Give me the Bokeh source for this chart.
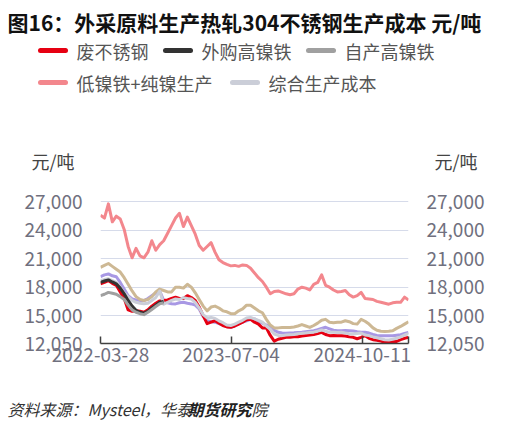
import pandas as pd
from datetime import datetime
from bokeh.plotting import figure
from bokeh.layouts import column
from bokeh.models import (Range1d, LinearAxis, FixedTicker, DatetimeTickFormatter,
                          NumeralTickFormatter)
from bokeh.core.properties import value
from bokeh.embed import file_html
from bokeh.resources import INLINE

# ---------------- data ----------------
dates = pd.date_range("2022-03-28", periods=79, freq="14D")

scrap = [18350, 18500, 18700, 18400, 18200, 17500, 16800, 15600, 15450, 15500,
         15450, 15350, 15600, 16000, 16300, 16550, 16600, 16650, 16800, 16930,
         16800, 16800, 17100, 16900, 16600, 15900, 15000, 14150, 14300, 14450,
         14200, 13950, 13800, 13760, 13900, 14100, 14300, 14550, 14600, 14300,
         14100, 13700, 13700, 12900, 12300, 12500, 12600, 12700, 12700, 12750,
         12770, 12850, 12900, 12950, 13000, 13100, 13230, 13000, 12880, 12900,
         12880, 12880, 12850, 12750, 12700, 12550, 12700, 12880, 12600, 12450,
         12400, 12300, 12170, 12200, 12250, 12270, 12450, 12600, 12700]

bought_npi = [18500, 18650, 18770, 18550, 18350, 17900, 17300, 16600, 16000, 15550,
              15350, 15250, 15450, 15800, 16100, 16400, 16500]

own_npi = [17100, 17250, 17450, 17350, 17250, 17000, 16700, 16100, 15600, 15350,
           15200, 15100, 15350, 15650, 15950, 16250, 16350]

low_ni = [25600, 25300, 26800, 24900, 25500, 25200, 24100, 22300, 21100, 22100,
          21300, 21100, 21700, 22900, 21900, 22500, 22900, 23700, 24500, 25300,
          25800, 24400, 25400, 24500, 23600, 22400, 21900, 22300, 22700, 21700,
          20900, 20600, 20400, 20250, 20300, 20200, 20350, 20300, 20000, 19500,
          19000, 18600, 18000, 17300, 17550, 17600, 17450, 17300, 17200, 17300,
          17800, 18000, 17900, 17700, 18300, 18500, 19300, 18200, 18000, 17700,
          17500, 17550, 17650, 17200, 16950, 17100, 17450, 16800, 16750, 16700,
          16500, 16400, 16300, 16200, 16350, 16400, 16400, 16950, 16650]

combined = [18700, 18800, 18880, 18700, 18500, 18000, 17400, 17000, 16600, 16400,
            16300, 16250, 16300, 16600, 16900, 17600, 16200, 16400, 16600, 16750,
            16700, 16900, 16800, 16750, 16400, 15800, 15100, 14750, 14800, 14700,
            14450, 14250, 14000, 13950, 14100, 14300, 14500, 14750, 14800, 14650,
            14500, 14300, 13900, 13550, 13050, 12900, 12880, 12950, 12980, 13000,
            13080, 13120, 13150, 13200, 13250, 13350, 13480, 13350, 13250, 13230,
            13200, 13230, 13150, 13080, 13050, 13100, 13150, 12950, 12880, 12750,
            12650, 12550, 12450, 12420, 12500, 12600, 12750, 12950, 13100]

tan_series = [20100, 20300, 20500, 20200, 19900, 19600, 19000, 18300, 17600, 17000,
              16700, 16600, 16700, 17000, 17500, 17800, 17650, 17500, 17500, 18000,
              18000, 17900, 18300, 18000, 17400, 16700, 16000, 15500, 15900, 16000,
              15800, 15500, 15400, 15200, 15200, 15500, 15700, 16100, 16100, 15800,
              15500, 15300, 14600, 14000, 13700, 13700, 13750, 13750, 13750, 13800,
              13900, 14050, 13900, 13750, 13950, 14200, 14500, 14600, 14300, 14250,
              14300, 14300, 14450, 14350, 14150, 14100, 14600, 14400, 14100, 13700,
              13450, 13350, 13330, 13350, 13400, 13650, 13850, 14100, 14350]

purple_series = [19100, 19300, 19400, 19200, 19100, 18500, 17800, 17100, 16750, 16650,
                 16580, 16580, 16800, 17100, 17400, 17600, 16600, 16350, 16250, 16230,
                 16350, 16400, 16300, 16230, 16100, 15700, 14900, 14450, 14350, 14300,
                 14150, 14000, 13850, 13760, 13900, 14150, 14300, 14450, 14600, 14650,
                 14400, 14200, 14000, 13760, 13450, 13230, 13150, 13120, 13150, 13180,
                 13220, 13230, 13300, 13350, 13400, 13500, 13650, 13760, 13600, 13450,
                 13400, 13400, 13420, 13400, 13380, 13300, 13250, 13230, 13150, 13000,
                 12900, 12880, 12870, 12880, 12880, 12930, 12980, 13100, 13230]

legend_labels = ["废不锈钢", "外购高镍铁", "自产高镍铁", "低镍铁+纯镍生产", "综合生产成本"]
x_tick_dates = ["2022-03-28", "2023-07-04", "2024-10-11"]
y_ticks = [12050, 15000, 18000, 21000, 24000, 27000]
y_grid = [15000, 18000, 21000, 24000, 27000, 28000]
title_text = "图16：外采原料生产热轧304不锈钢生产成本 元/吨"
source_parts = ["资料来源：Mysteel，华泰", "期货研究", "院"]
unit_text = "元/吨"

# ---------------- styling ----------------
FONT = "Noto Sans CJK SC"
AX_COL = "#70707E"
C_RED = "#E60012"
C_DARK = "#333333"
C_GRAY = "#A0A0A0"
C_PINK = "#F3878D"
C_LIGHT = "#CBCED8"
C_TAN = "#CDB894"
C_PURPLE = "#A898E4"
legend_colors = [C_RED, C_DARK, C_GRAY, C_PINK, C_LIGHT]

W = 518

# ---------------- header (title, legend, units) ----------------
HH = 175
hdr = figure(width=W, height=HH, x_range=Range1d(0, W), y_range=Range1d(HH, 0),
             output_backend="svg", toolbar_location=None, min_border=0,
             x_axis_location=None, y_axis_location=None)
hdr.outline_line_color = None
hdr.grid.visible = False
hdr.frame_align = False

hdr.text(x=[7], y=[21], text=[title_text], text_font=value(FONT),
         text_font_size="21px", text_font_style="bold", text_color="#111111",
         text_baseline="middle", text_align="left")

lg_x0 = [40, 165, 308, 40, 232]
lg_y = [50, 50, 50, 82, 82]
hdr.segment(x0=lg_x0, y0=lg_y, x1=[v + 25 for v in lg_x0], y1=lg_y,
            line_color=legend_colors, line_width=5, line_cap="round")
hdr.text(x=[v + 36 for v in lg_x0], y=lg_y, text=legend_labels, text_font=value(FONT),
         text_font_size="18px", text_color="#555555", text_baseline="middle",
         text_align="left")

hdr.text(x=[31, 434], y=[160, 160], text=[unit_text, unit_text], text_font=value(FONT),
         text_font_size="18px", text_color="#444444", text_baseline="middle",
         text_align="left")

# ---------------- main chart ----------------
x0 = datetime(2022, 3, 28)
x1 = dates[-1].to_pydatetime()

p = figure(width=W, height=210, x_axis_type="datetime",
           x_range=Range1d(x0, x1), y_range=Range1d(12050, 28000),
           output_backend="svg", toolbar_location=None,
           min_border_left=100, min_border_right=110,
           min_border_top=17, min_border_bottom=42,
           y_axis_location=None)
p.outline_line_color = None
p.frame_align = False

lw = 3
p.line(dates, purple_series, line_color=C_PURPLE, line_width=lw, line_join="round")
p.line(dates, tan_series, line_color=C_TAN, line_width=lw, line_join="round")
p.line(dates, scrap, line_color=C_RED, line_width=lw, line_join="round")
p.line(dates, combined, line_color=C_LIGHT, line_width=lw, line_join="round")
p.line(dates[:len(bought_npi)], bought_npi, line_color=C_DARK, line_width=lw, line_join="round")
p.line(dates[:len(own_npi)], own_npi, line_color=C_GRAY, line_width=lw, line_join="round")
p.line(dates, low_ni, line_color=C_PINK, line_width=lw, line_join="round")

p.xgrid.visible = False
p.ygrid.ticker = FixedTicker(ticks=y_grid)
p.ygrid.grid_line_color = "#D6DBEA"
p.ygrid.grid_line_width = 1

for side in ["left", "right"]:
    ax = LinearAxis(ticker=FixedTicker(ticks=y_ticks),
                    formatter=NumeralTickFormatter(format="0,0"))
    ax.axis_line_color = None
    ax.major_tick_line_color = None
    ax.minor_tick_line_color = None
    ax.major_label_text_font = FONT
    ax.major_label_text_font_size = "19px"
    ax.major_label_text_color = AX_COL
    ax.major_label_standoff = 12
    p.add_layout(ax, side)

xt = [pd.Timestamp(d).value // 10**6 for d in x_tick_dates]
xend = pd.Timestamp(x1).value // 10**6
xa = p.xaxis[0]
xa.ticker = FixedTicker(ticks=xt, minor_ticks=[xend])
fmt = "%Y-%m-%d"
xa.formatter = DatetimeTickFormatter(days=fmt, months=fmt, years=fmt, hours=fmt,
                                     minutes=fmt, seconds=fmt, milliseconds=fmt,
                                     microseconds=fmt, minsec=fmt, hourmin=fmt)
xa.axis_line_color = "#404040"
xa.axis_line_width = 1.5
xa.major_tick_line_color = "#404040"
xa.major_tick_line_width = 1.5
xa.major_tick_in = 7
xa.major_tick_out = 0
xa.minor_tick_line_color = "#404040"
xa.minor_tick_line_width = 1.5
xa.minor_tick_in = 7
xa.minor_tick_out = 0
xa.major_label_text_font = FONT
xa.major_label_text_font_size = "19px"
xa.major_label_text_color = AX_COL
xa.major_label_standoff = 4

# ---------------- footer (source) ----------------
FH = 39
ftr = figure(width=W, height=FH, x_range=Range1d(0, W), y_range=Range1d(FH, 0),
             output_backend="svg", toolbar_location=None, min_border=0,
             x_axis_location=None, y_axis_location=None)
ftr.outline_line_color = None
ftr.grid.visible = False
ftr.frame_align = False
ftr.text(x=[7, 187, 251], y=[23, 23, 23], text=source_parts, text_font=value(FONT),
         text_font_size="16px",
         text_font_style=["italic", "bold italic", "italic"],
         text_color=["#333333", "#222222", "#333333"],
         text_baseline="middle", text_align="left")

layout = column(hdr, p, ftr, spacing=0)
open("out.html", "w").write(file_html(layout, INLINE))
